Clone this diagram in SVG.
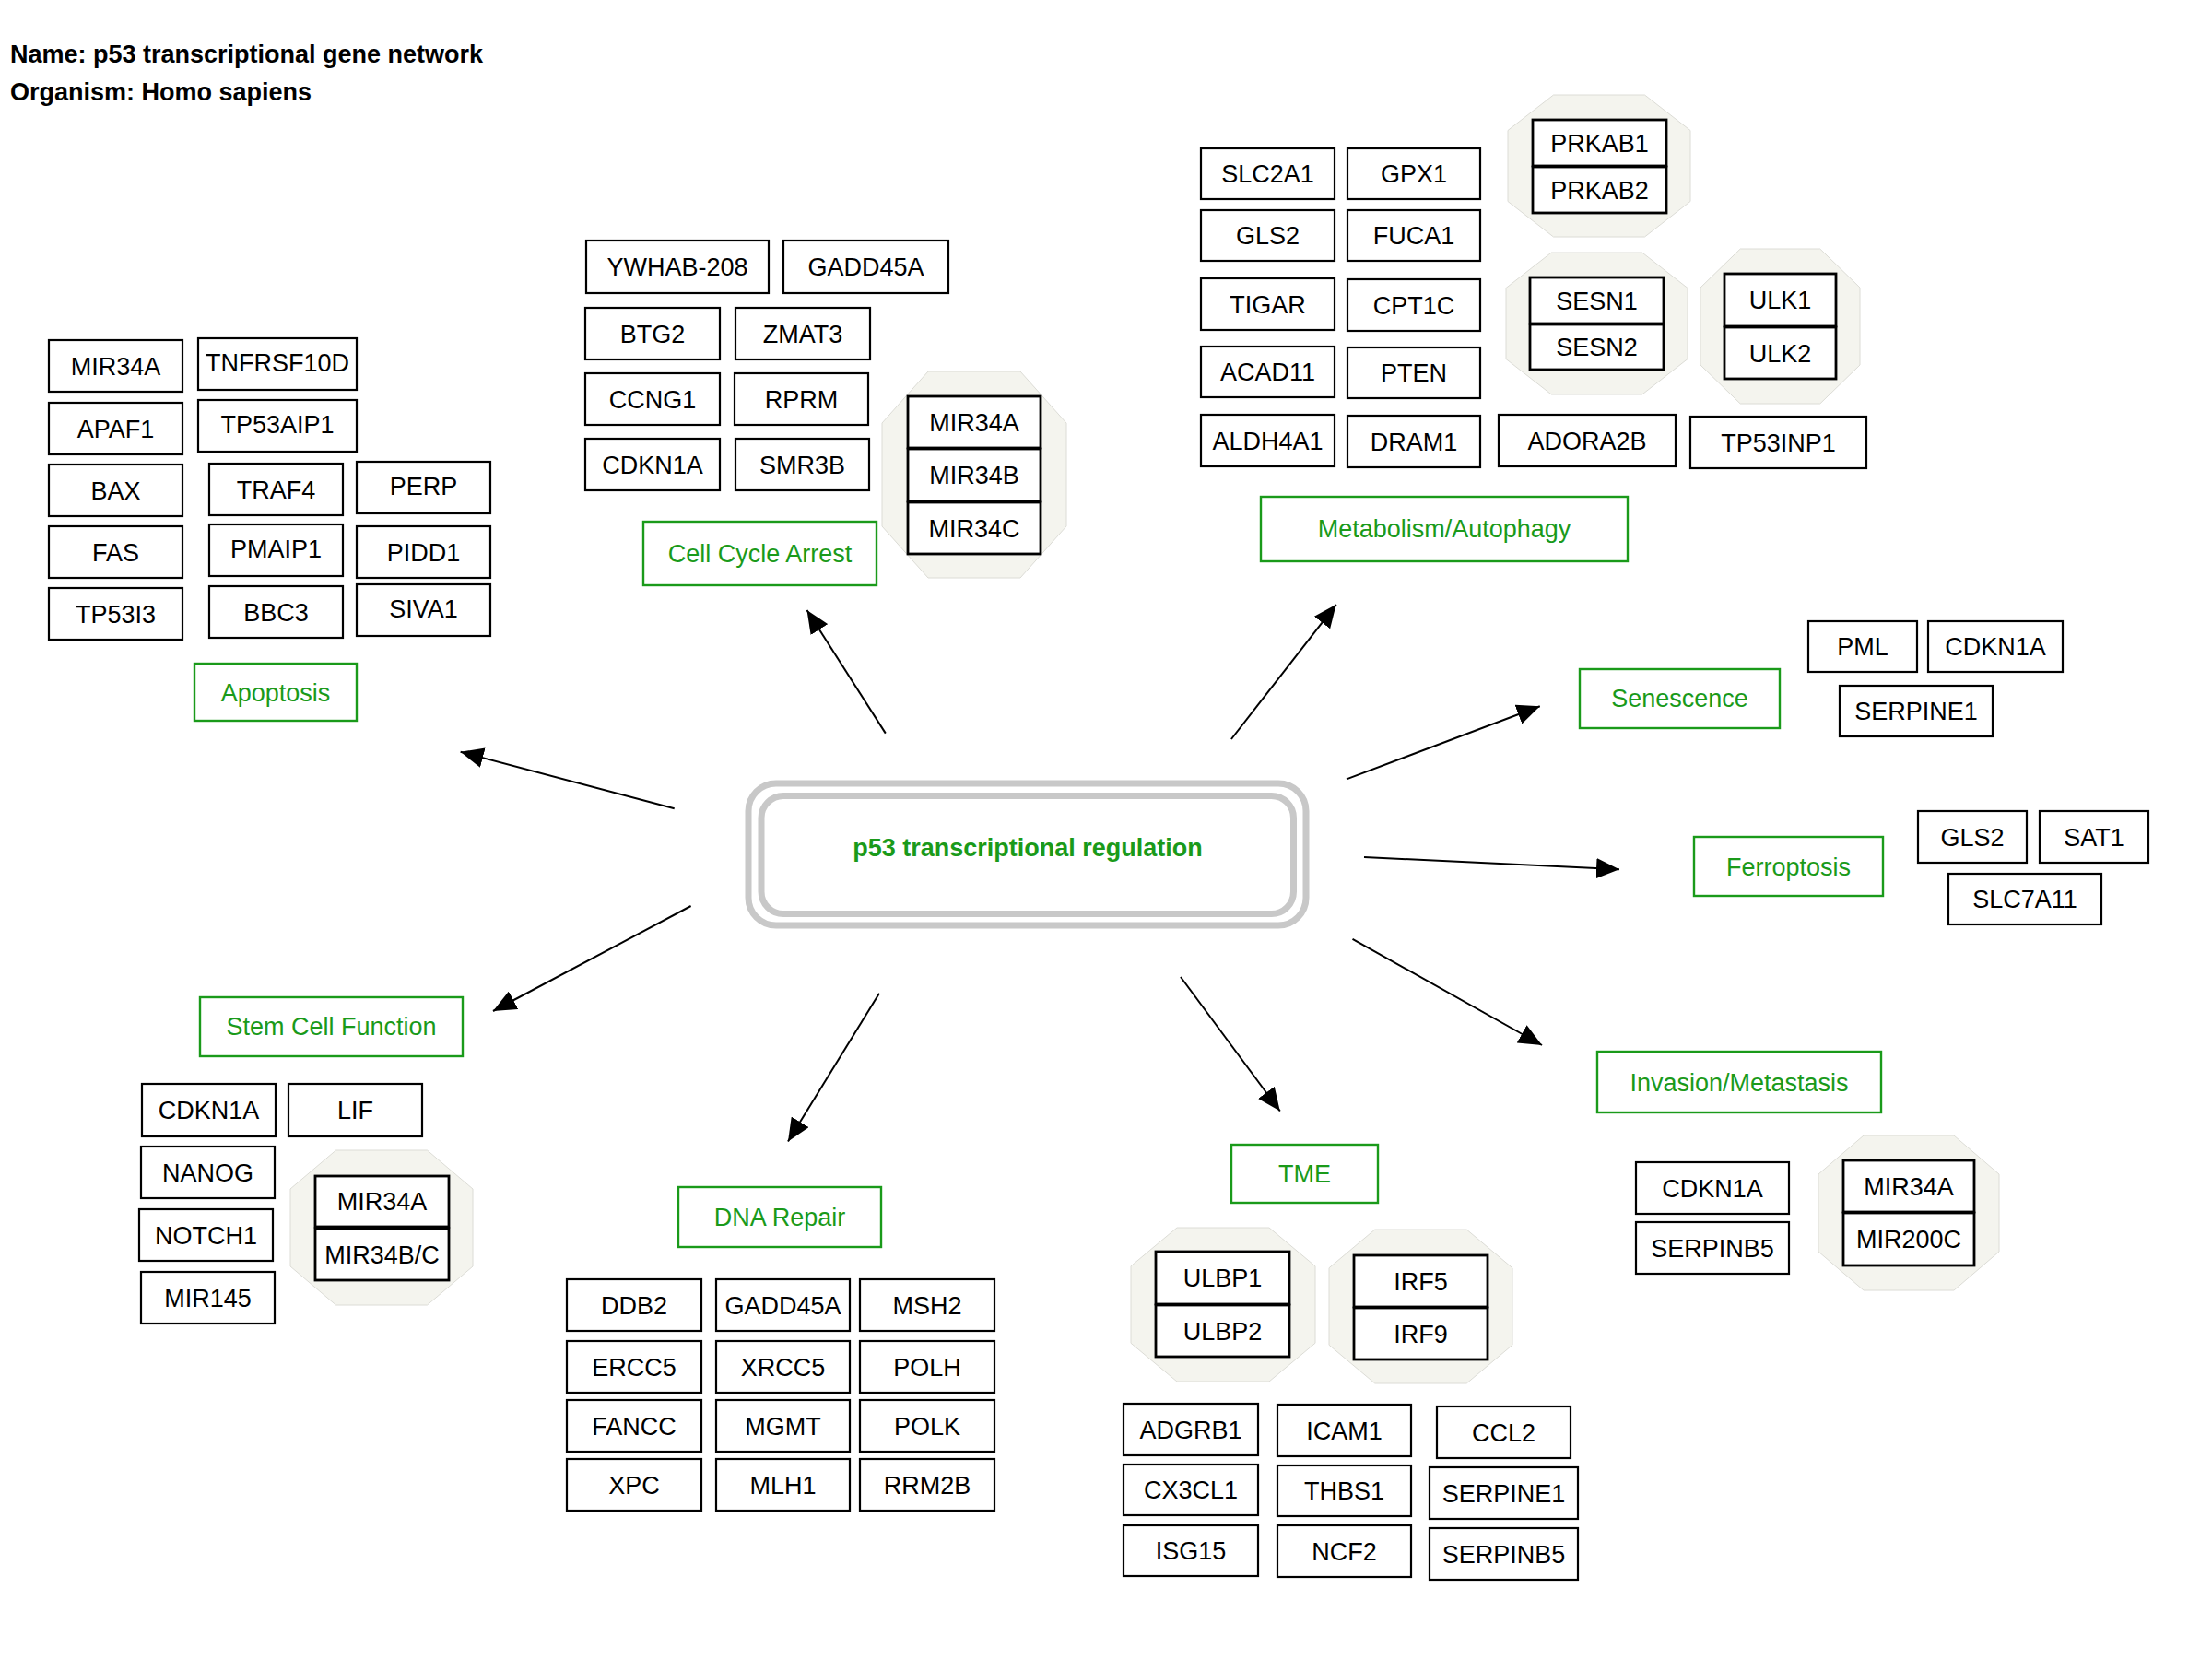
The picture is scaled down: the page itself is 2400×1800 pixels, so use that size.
<svg xmlns="http://www.w3.org/2000/svg" width="2400" height="1800" viewBox="0 0 2400 1800">
<defs>
<style>
.n rect{fill:#fff;stroke:#000;stroke-width:2.2}
.m rect{fill:#fff;stroke:#000;stroke-width:2.8}
text{font-family:"Liberation Sans",Arial,sans-serif;font-size:27px;text-anchor:middle;fill:#000}
.l rect{fill:#fff;stroke:#1a9a1a;stroke-width:2.4}
.l text{fill:#1a9a1a}
.cx polygon{fill:#f4f4ee;stroke:#dcdcd6;stroke-width:1}
.e line{stroke:#000;stroke-width:2;marker-end:url(#ah)}
.title{font-weight:bold;text-anchor:start}
</style>
<marker id="ah" viewBox="0 0 25 22" refX="25" refY="11" markerWidth="25" markerHeight="22" markerUnits="userSpaceOnUse" orient="auto">
<path d="M0,0 L25,11 L0,22 z" fill="#000"/>
</marker>
</defs>
<rect width="2400" height="1800" fill="#fff"/>
<text class="title" x="11" y="68">Name: p53 transcriptional gene network</text>
<text class="title" x="11" y="109">Organism: Homo sapiens</text>

<g id="edges" class="e">
<line x1="731.7" y1="877.3" x2="499.6" y2="815.7"/>
<line x1="960.8" y1="795.6" x2="875.5" y2="662"/>
<line x1="1335.9" y1="802" x2="1449.8" y2="655.8"/>
<line x1="1461" y1="845.4" x2="1670.8" y2="766.3"/>
<line x1="1480" y1="930" x2="1757" y2="943.3"/>
<line x1="1467.5" y1="1018.8" x2="1673" y2="1134"/>
<line x1="1281" y1="1060" x2="1388.8" y2="1205.5"/>
<line x1="954" y1="1077.8" x2="855" y2="1238.6"/>
<line x1="749.6" y1="983" x2="535" y2="1097"/>
</g>

<g id="p53">
<rect x="812" y="850" width="605" height="154" rx="30" fill="#fff" stroke="#c8c8c8" stroke-width="7"/>
<rect x="826" y="863.5" width="577.5" height="128" rx="24" fill="none" stroke="#c8c8c8" stroke-width="7"/>
<text x="1115" y="929" style="font-weight:bold;fill:#1a9a1a">p53 transcriptional regulation</text>
</g>

<!-- Apoptosis -->
<g id="apoptosis" class="l"><rect x="211" y="720" width="176" height="62"/><text x="299" y="760.5">Apoptosis</text></g>
<g id="apo_MIR34A" class="n"><rect x="53" y="369" width="145" height="56"/><text x="125.5" y="406.5">MIR34A</text></g>
<g id="apo_APAF1" class="n"><rect x="53" y="437" width="145" height="56"/><text x="125.5" y="474.5">APAF1</text></g>
<g id="apo_BAX" class="n"><rect x="53" y="504" width="145" height="56"/><text x="125.5" y="541.5">BAX</text></g>
<g id="apo_FAS" class="n"><rect x="53" y="571" width="145" height="56"/><text x="125.5" y="608.5">FAS</text></g>
<g id="apo_TP53I3" class="n"><rect x="53" y="638" width="145" height="56"/><text x="125.5" y="675.5">TP53I3</text></g>
<g id="apo_TNFRSF10D" class="n"><rect x="215" y="367" width="172" height="56"/><text x="301" y="403">TNFRSF10D</text></g>
<g id="apo_TP53AIP1" class="n"><rect x="215" y="434" width="172" height="56"/><text x="301" y="470">TP53AIP1</text></g>
<g id="apo_TRAF4" class="n"><rect x="227" y="503" width="145" height="56"/><text x="299.5" y="540.5">TRAF4</text></g>
<g id="apo_PMAIP1" class="n"><rect x="227" y="569" width="145" height="56"/><text x="299.5" y="605">PMAIP1</text></g>
<g id="apo_BBC3" class="n"><rect x="227" y="636" width="145" height="56"/><text x="299.5" y="673.5">BBC3</text></g>
<g id="apo_PERP" class="n"><rect x="387" y="501" width="145" height="56"/><text x="459.5" y="537">PERP</text></g>
<g id="apo_PIDD1" class="n"><rect x="387" y="571" width="145" height="56"/><text x="459.5" y="608.5">PIDD1</text></g>
<g id="apo_SIVA1" class="n"><rect x="387" y="634" width="145" height="56"/><text x="459.5" y="670">SIVA1</text></g>

<!-- Cell cycle -->
<g id="cellcycle" class="l"><rect x="698" y="566" width="253" height="69"/><text x="824.5" y="610">Cell Cycle Arrest</text></g>
<g id="cc_YWHAB208" class="n"><rect x="636" y="261" width="198" height="57"/><text x="735" y="299">YWHAB-208</text></g>
<g id="cc_GADD45A" class="n"><rect x="850" y="261" width="179" height="57"/><text x="939.5" y="299">GADD45A</text></g>
<g id="cc_BTG2" class="n"><rect x="635" y="334" width="146" height="56"/><text x="708" y="371.5">BTG2</text></g>
<g id="cc_ZMAT3" class="n"><rect x="798" y="334" width="146" height="56"/><text x="871" y="371.5">ZMAT3</text></g>
<g id="cc_CCNG1" class="n"><rect x="635" y="405" width="146" height="56"/><text x="708" y="442.5">CCNG1</text></g>
<g id="cc_RPRM" class="n"><rect x="797" y="405" width="145" height="56"/><text x="869.5" y="442.5">RPRM</text></g>
<g id="cc_CDKN1A" class="n"><rect x="635" y="476" width="146" height="56"/><text x="708" y="513.5">CDKN1A</text></g>
<g id="cc_SMR3B" class="n"><rect x="798" y="476" width="145" height="56"/><text x="870.5" y="513.5">SMR3B</text></g>
<g id="cc_MIR34" class="cx">
<polygon points="1007,403 1107,403 1157,459 1157,571 1107,627 1007,627 957,571 957,459"/>
<g class="m"><rect x="985" y="430" width="144" height="56"/><rect x="985" y="487" width="144" height="57"/><rect x="985" y="545" width="144" height="56"/></g>
<text x="1057" y="467.5">MIR34A</text><text x="1057" y="525">MIR34B</text><text x="1057" y="582.5">MIR34C</text>
</g>

<!-- Metabolism -->
<g id="metabolism" class="l"><rect x="1368" y="539" width="398" height="70"/><text x="1567" y="583">Metabolism/Autophagy</text></g>
<g id="met_SLC2A1" class="n"><rect x="1303" y="161" width="145" height="55"/><text x="1375.5" y="198">SLC2A1</text></g>
<g id="met_GPX1" class="n"><rect x="1462" y="161" width="144" height="55"/><text x="1534" y="198">GPX1</text></g>
<g id="met_GLS2" class="n"><rect x="1303" y="228" width="145" height="55"/><text x="1375.5" y="265">GLS2</text></g>
<g id="met_FUCA1" class="n"><rect x="1462" y="228" width="144" height="55"/><text x="1534" y="265">FUCA1</text></g>
<g id="met_TIGAR" class="n"><rect x="1303" y="302" width="145" height="56"/><text x="1375.5" y="339.5">TIGAR</text></g>
<g id="met_CPT1C" class="n"><rect x="1462" y="303" width="144" height="56"/><text x="1534" y="340.5">CPT1C</text></g>
<g id="met_ACAD11" class="n"><rect x="1303" y="376" width="145" height="55"/><text x="1375.5" y="413">ACAD11</text></g>
<g id="met_PTEN" class="n"><rect x="1462" y="377" width="144" height="55"/><text x="1534" y="414">PTEN</text></g>
<g id="met_ALDH4A1" class="n"><rect x="1303" y="450" width="145" height="56"/><text x="1375.5" y="487.5">ALDH4A1</text></g>
<g id="met_DRAM1" class="n"><rect x="1462" y="451" width="144" height="56"/><text x="1534" y="488.5">DRAM1</text></g>
<g id="met_ADORA2B" class="n"><rect x="1626" y="450" width="192" height="56"/><text x="1722" y="487.5">ADORA2B</text></g>
<g id="met_TP53INP1" class="n"><rect x="1834" y="452" width="191" height="56"/><text x="1929.5" y="489.5">TP53INP1</text></g>
<g id="met_PRKAB" class="cx">
<polygon points="1685.5,103 1784.5,103 1834,141.5 1834,218.5 1784.5,257 1685.5,257 1636,218.5 1636,141.5"/>
<g class="m"><rect x="1663" y="130" width="145" height="50"/><rect x="1663" y="181" width="145" height="50"/></g>
<text x="1735.5" y="164.5">PRKAB1</text><text x="1735.5" y="215.5">PRKAB2</text>
</g>
<g id="met_SESN" class="cx">
<polygon points="1683.25,274 1781.75,274 1831,312.5 1831,389.5 1781.75,428 1683.25,428 1634,389.5 1634,312.5"/>
<g class="m"><rect x="1660" y="301" width="145" height="50"/><rect x="1660" y="352" width="145" height="49"/></g>
<text x="1732.5" y="335.5">SESN1</text><text x="1732.5" y="386">SESN2</text>
</g>
<g id="met_ULK" class="cx">
<polygon points="1888.25,270 1974.75,270 2018,312 2018,396 1974.75,438 1888.25,438 1845,396 1845,312"/>
<g class="m"><rect x="1871" y="297" width="121" height="57"/><rect x="1871" y="355" width="121" height="56"/></g>
<text x="1931.5" y="334.5">ULK1</text><text x="1931.5" y="392.5">ULK2</text>
</g>

<!-- Senescence -->
<g id="senescence" class="l"><rect x="1714" y="726" width="217" height="64"/><text x="1822.5" y="767">Senescence</text></g>
<g id="sen_PML" class="n"><rect x="1962" y="674" width="118" height="55"/><text x="2021" y="711">PML</text></g>
<g id="sen_CDKN1A" class="n"><rect x="2092" y="674" width="146" height="55"/><text x="2165" y="711">CDKN1A</text></g>
<g id="sen_SERPINE1" class="n"><rect x="1996" y="744" width="166" height="55"/><text x="2079" y="781">SERPINE1</text></g>

<!-- Ferroptosis -->
<g id="ferroptosis" class="l"><rect x="1838" y="908" width="205" height="64"/><text x="1940.5" y="949.5">Ferroptosis</text></g>
<g id="fer_GLS2" class="n"><rect x="2081" y="880" width="118" height="56"/><text x="2140" y="917.5">GLS2</text></g>
<g id="fer_SAT1" class="n"><rect x="2213" y="880" width="118" height="56"/><text x="2272" y="917.5">SAT1</text></g>
<g id="fer_SLC7A11" class="n"><rect x="2114" y="948" width="166" height="55"/><text x="2197" y="985">SLC7A11</text></g>

<!-- Invasion -->
<g id="invasion" class="l"><rect x="1733" y="1141" width="308" height="66"/><text x="1887" y="1183.5">Invasion/Metastasis</text></g>
<g id="inv_CDKN1A" class="n"><rect x="1775" y="1261" width="166" height="56"/><text x="1858" y="1298.5">CDKN1A</text></g>
<g id="inv_SERPINB5" class="n"><rect x="1775" y="1326" width="166" height="56"/><text x="1858" y="1363.5">SERPINB5</text></g>
<g id="inv_MIR" class="cx">
<polygon points="2022,1232 2120,1232 2169,1274 2169,1358 2120,1400 2022,1400 1973,1358 1973,1274"/>
<g class="m"><rect x="2000" y="1259" width="142" height="56"/><rect x="2000" y="1316" width="142" height="57"/></g>
<text x="2071" y="1296.5">MIR34A</text><text x="2071" y="1354">MIR200C</text>
</g>

<!-- TME -->
<g id="tme" class="l"><rect x="1336" y="1242" width="159" height="63"/><text x="1415.5" y="1283">TME</text></g>
<g id="tme_ULBP" class="cx">
<polygon points="1277,1332 1377,1332 1427,1373.75 1427,1457.25 1377,1499 1277,1499 1227,1457.25 1227,1373.75"/>
<g class="m"><rect x="1254" y="1358" width="145" height="57"/><rect x="1254" y="1416" width="145" height="56"/></g>
<text x="1326.5" y="1395.5">ULBP1</text><text x="1326.5" y="1453.5">ULBP2</text>
</g>
<g id="tme_IRF" class="cx">
<polygon points="1491.75,1334 1591.25,1334 1641,1375.75 1641,1459.25 1591.25,1501 1491.75,1501 1442,1459.25 1442,1375.75"/>
<g class="m"><rect x="1469" y="1362" width="145" height="56"/><rect x="1469" y="1419" width="145" height="56"/></g>
<text x="1541.5" y="1399.5">IRF5</text><text x="1541.5" y="1456.5">IRF9</text>
</g>
<g id="tme_ADGRB1" class="n"><rect x="1219" y="1523" width="146" height="56"/><text x="1292" y="1560.5">ADGRB1</text></g>
<g id="tme_ICAM1" class="n"><rect x="1386" y="1524" width="145" height="56"/><text x="1458.5" y="1561.5">ICAM1</text></g>
<g id="tme_CCL2" class="n"><rect x="1559" y="1526" width="145" height="56"/><text x="1631.5" y="1563.5">CCL2</text></g>
<g id="tme_CX3CL1" class="n"><rect x="1219" y="1589" width="146" height="55"/><text x="1292" y="1626">CX3CL1</text></g>
<g id="tme_THBS1" class="n"><rect x="1386" y="1590" width="145" height="55"/><text x="1458.5" y="1627">THBS1</text></g>
<g id="tme_SERPINE1" class="n"><rect x="1551" y="1592" width="161" height="56"/><text x="1631.5" y="1629.5">SERPINE1</text></g>
<g id="tme_ISG15" class="n"><rect x="1219" y="1655" width="146" height="55"/><text x="1292" y="1692">ISG15</text></g>
<g id="tme_NCF2" class="n"><rect x="1386" y="1655" width="145" height="56"/><text x="1458.5" y="1692.5">NCF2</text></g>
<g id="tme_SERPINB5" class="n"><rect x="1551" y="1658" width="161" height="56"/><text x="1631.5" y="1695.5">SERPINB5</text></g>

<!-- DNA repair -->
<g id="dnarepair" class="l"><rect x="736" y="1288" width="220" height="65"/><text x="846" y="1330">DNA Repair</text></g>
<g id="dna_DDB2" class="n"><rect x="615" y="1388" width="146" height="56"/><text x="688" y="1425.5">DDB2</text></g>
<g id="dna_GADD45A" class="n"><rect x="777" y="1388" width="145" height="56"/><text x="849.5" y="1425.5">GADD45A</text></g>
<g id="dna_MSH2" class="n"><rect x="933" y="1388" width="146" height="56"/><text x="1006" y="1425.5">MSH2</text></g>
<g id="dna_ERCC5" class="n"><rect x="615" y="1455" width="146" height="56"/><text x="688" y="1492.5">ERCC5</text></g>
<g id="dna_XRCC5" class="n"><rect x="777" y="1455" width="145" height="56"/><text x="849.5" y="1492.5">XRCC5</text></g>
<g id="dna_POLH" class="n"><rect x="933" y="1455" width="146" height="56"/><text x="1006" y="1492.5">POLH</text></g>
<g id="dna_FANCC" class="n"><rect x="615" y="1519" width="146" height="56"/><text x="688" y="1556.5">FANCC</text></g>
<g id="dna_MGMT" class="n"><rect x="777" y="1519" width="145" height="56"/><text x="849.5" y="1556.5">MGMT</text></g>
<g id="dna_POLK" class="n"><rect x="933" y="1519" width="146" height="56"/><text x="1006" y="1556.5">POLK</text></g>
<g id="dna_XPC" class="n"><rect x="615" y="1583" width="146" height="56"/><text x="688" y="1620.5">XPC</text></g>
<g id="dna_MLH1" class="n"><rect x="777" y="1583" width="145" height="56"/><text x="849.5" y="1620.5">MLH1</text></g>
<g id="dna_RRM2B" class="n"><rect x="933" y="1583" width="146" height="56"/><text x="1006" y="1620.5">RRM2B</text></g>

<!-- Stem cell -->
<g id="stemcell" class="l"><rect x="217" y="1082" width="285" height="64"/><text x="359.5" y="1123">Stem Cell Function</text></g>
<g id="sc_CDKN1A" class="n"><rect x="154" y="1176" width="145" height="57"/><text x="226.5" y="1214">CDKN1A</text></g>
<g id="sc_LIF" class="n"><rect x="313" y="1176" width="145" height="57"/><text x="385.5" y="1214">LIF</text></g>
<g id="sc_NANOG" class="n"><rect x="153" y="1244" width="145" height="56"/><text x="225.5" y="1281.5">NANOG</text></g>
<g id="sc_NOTCH1" class="n"><rect x="151" y="1312" width="145" height="56"/><text x="223.5" y="1349.5">NOTCH1</text></g>
<g id="sc_MIR145" class="n"><rect x="153" y="1380" width="145" height="56"/><text x="225.5" y="1417.5">MIR145</text></g>
<g id="sc_MIR34" class="cx">
<polygon points="364.5,1248 463.5,1248 513,1290 513,1374 463.5,1416 364.5,1416 315,1374 315,1290"/>
<g class="m"><rect x="342" y="1276" width="145" height="55"/><rect x="342" y="1333" width="145" height="56"/></g>
<text x="414.5" y="1313">MIR34A</text><text x="414.5" y="1370.5">MIR34B/C</text>
</g>
</svg>
